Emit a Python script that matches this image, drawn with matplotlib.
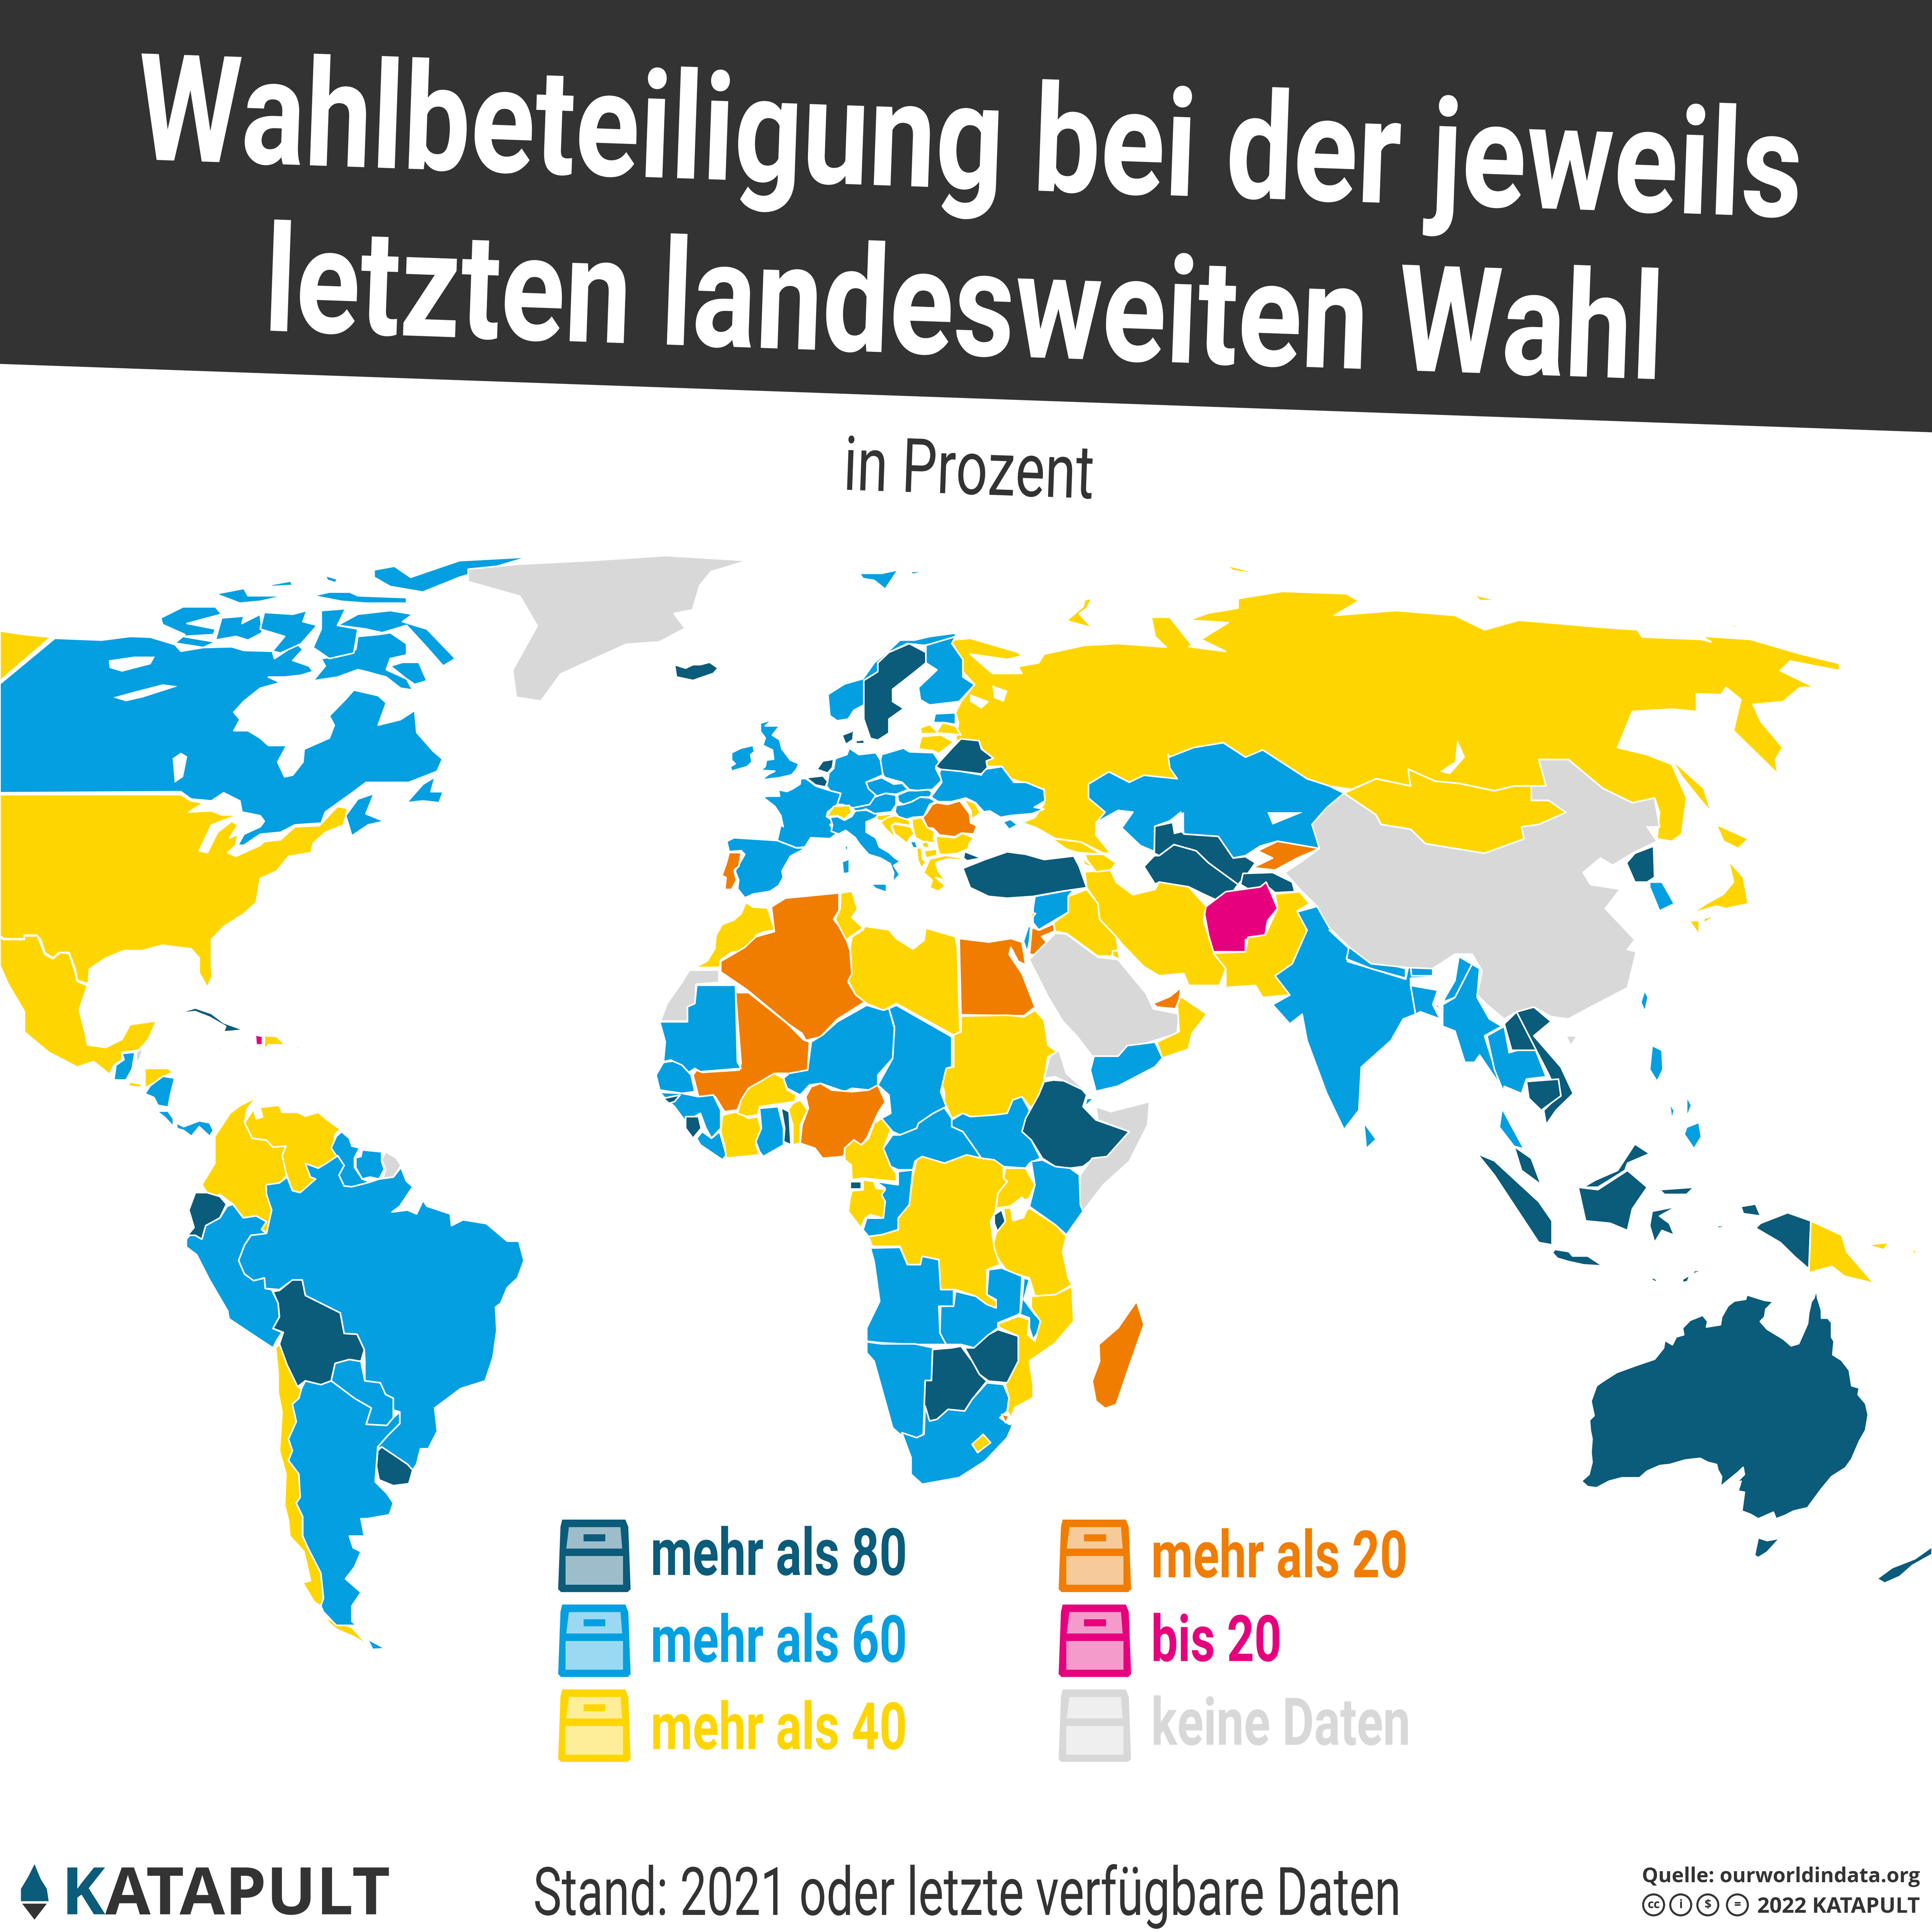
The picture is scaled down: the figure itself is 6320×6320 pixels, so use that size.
import matplotlib
matplotlib.use("Agg")
import matplotlib.pyplot as plt
from matplotlib.patches import Polygon, Circle
from matplotlib.patheffects import AbstractPathEffect
from matplotlib.transforms import Affine2D
from matplotlib import font_manager as fm

names = {f.name for f in fm.fontManager.ttflist}
NARROW = "Liberation Sans Narrow" if "Liberation Sans Narrow" in names else "Roboto"

COLORS = {"d": "#0B5B7A", "b": "#049FE0", "y": "#FFD500", "o": "#F07D00", "m": "#E6007E", "g": "#D8D8D8"}
LEGEND_LABELS = [("mehr als 80", "d"), ("mehr als 60", "b"), ("mehr als 40", "y"),
                 ("mehr als 20", "o"), ("bis 20", "m"), ("keine Daten", "g")]
TITLE_LINES = ["Wahlbeteiligung bei der jeweils", "letzten landesweiten Wahl"]
SUBTITLE = "in Prozent"
FOOTNOTE = "Stand: 2021 oder letzte verfügbare Daten"
SOURCE = "Quelle: ourworldindata.org"
COPYRIGHT = "2022 KATAPULT"

# reference frames of the outline digitising: x0, y0, x scale, y scale
FR = {"A": (0, 1750, 2200/1568, 2000/1568), "E": (2200, 1900, 2000/1568, 1900/1568),
      "F": (2200, 3400, 2000/1568, 1800/1568), "S": (4000, 1900, 2667/1568, 2600/1568),
      "L": (500, 3600, 1400/1568, 2100/1568), "G": (2400, 2400, 1300/1568, 1000/1568),
      "W": (5300, 4300, 1367/1568, 1200/1568), "T": (0, 0, 6667/1568, 6667/1568)}

NORTH_AMERICA = [
 ("y","A",[(0,335),(60,345),(125,352),(0,470)]),
 ("b","A",[(0,478),(135,355),(250,360),(320,350),(370,352),(430,372),(445,390),(500,380),(570,378),(600,388),(670,390),(675,410),(730,370),(745,385),(720,415),(760,430),(770,445),(740,455),(700,460),(660,460),(690,475),(640,490),(600,525),(575,555),(590,575),(575,605),(610,605),(640,625),(660,645),(705,645),(683,690),(700,730),(720,725),(745,690),(748,655),(810,625),(822,590),(810,565),(850,520),(870,495),(930,510),(950,530),(930,590),(985,575),(1020,550),(1025,610),(1065,660),(1088,682),(1075,715),(1005,745),(900,745),(870,770),(800,825),(790,855),(725,860),(690,880),(640,885),(600,915),(585,915),(600,885),(640,865),(650,850),(640,835),(595,825),(590,795),(550,773),(520,795),(470,790),(445,770),(0,773)]),
 ("b","A",[(850,835),(880,790),(920,775),(900,830),(945,850),(905,860),(865,890),(860,870)]),
 ("b","A",[(1000,800),(1040,750),(1070,730),(1060,770),(1090,770),(1080,800),(1040,795)]),
 ("b","A",[(790,410),(850,400),(875,385),(880,350),(930,345),(960,340),(1000,370),(1000,400),(960,410),(950,440),(1000,465),(1015,495),(985,490),(950,460),(900,445),(880,440),(830,460),(770,470),(800,430)]),
 ("b","A",[(990,420),(1030,420),(1050,470),(1020,480),(1000,465),(960,430)]),
 ("b","A",[(395,300),(450,270),(530,270),(545,290),(460,315),(530,330),(525,345),(450,350),(530,365),(500,380),(430,368),(455,345),(400,318)]),
 ("b","A",[(545,300),(600,295),(595,315),(640,290),(645,340),(610,360),(580,350),(530,360)]),
 ("b","A",[(650,285),(720,290),(755,280),(745,310),(780,320),(740,370),(690,395),(670,390),(700,350),(640,330)]),
 ("b","A",[(790,280),(850,275),(830,320),(880,330),(870,395),(810,410),(770,380),(790,330)]),
 ("b","A",[(880,290),(960,280),(1015,290),(990,310),(1050,330),(1120,410),(1090,430),(1050,380),(1000,320),(940,340),(900,330),(830,320)]),
 ("b","A",[(530,235),(600,220),(610,240),(700,240),(640,255),(590,260)]),
 ("b","A",[(665,210),(715,200),(720,212),(670,215)]),
 ("b","A",[(770,240),(810,230),(860,230),(880,240),(1000,245),(1000,260),(900,260),(840,255)]),
 ("b","A",[(800,185),(830,195),(825,205),(805,198)]),
 ("b","A",[(920,170),(970,160),(1010,190),(1130,145),(1300,135),(1130,190),(1040,230),(960,215),(920,190)]),
 ("y","A",[(10,778),(445,778),(470,795),(500,800),(465,825),(520,822),(545,833),(585,833),(520,860),(490,930),(510,935),(535,880),(570,850),(585,860),(565,895),(585,885),(580,915),(560,935),(580,945),(640,915),(650,905),(690,900),(725,865),(785,862),(830,810),(855,815),(845,860),(800,880),(770,910),(765,935),(710,945),(680,985),(640,1005),(630,1070),(600,1100),(550,1135),(520,1170),(520,1240),(522,1270),(510,1300),(490,1260),(490,1220),(470,1195),(430,1190),(400,1185),(350,1200),(305,1200),(260,1220),(220,1250),(217,1290),(190,1280),(185,1250),(170,1205),(145,1205),(130,1220),(110,1205),(100,1170),(90,1158),(60,1158),(60,1168),(10,1168),(0,1160),(0,778)]),
 ("y","A",[(0,1165),(10,1170),(60,1170),(60,1160),(92,1160),(110,1210),(130,1222),(148,1205),(170,1208),(185,1260),(190,1283),(215,1295),(195,1360),(210,1425),(215,1455),(260,1462),(300,1440),(320,1400),(385,1390),(365,1440),(340,1470),(300,1475),(300,1495),(280,1510),(270,1535),(230,1500),(190,1515),(120,1475),(60,1420),(60,1365),(20,1290),(0,1240)]),
 ("b","A",[(300,1478),(332,1475),(325,1520),(310,1550),(280,1550),(285,1510),(305,1495)]),
 ("g","A",[(335,1475),(352,1462),(345,1490),(335,1505)]),
 ("y","A",[(320,1555),(350,1562),(345,1570),(315,1566)]),
 ("y","L",[(0,65),(90,65),(108,75),(75,85),(40,100),(0,115)]),
 ("b","L",[(115,90),(100,130),(90,165),(50,160),(35,140),(0,130),(20,110),(70,85)]),
 ("b","L",[(45,175),(90,175),(110,195),(110,215),(75,190)]),
 ("b","L",[(120,205),(150,215),(210,200),(250,205),(265,225),(250,240),(210,215),(180,240),(150,225),(125,220)]),
 ("d","A",[(437,1370),(480,1355),(520,1370),(550,1395),(600,1415),(550,1420),(555,1405),(515,1380),(480,1365)]),
 ("m","A",[(628,1428),(646,1432),(645,1455),(630,1455)]),
 ("m","A",[(600,1455),(612,1458),(604,1462)]),
 ("y","A",[(650,1430),(680,1432),(702,1455),(660,1455),(650,1468)]),
 ("o","A",[(535,1460),(558,1467),(540,1467)]),
 ("g","A",[(730,1458),(750,1465),(730,1465)]),
 ("g","T",[(380,462),(420,458),(480,455),(540,451),(607,455),(577,464),(568,475),(562,495),(547,498),(556,510),(535,521),(508,523),(455,547),(439,569),(419,566),(416,544),(436,508),(422,484),(380,472)]),
]

SOUTH_AMERICA = [
 ("y","L",[(220,365),(270,310),(270,240),(330,180),(370,160),(430,140),(395,170),(385,205),(415,245),(470,250),(495,268),(545,265),(530,290),(550,340),(520,360),(468,365),(470,390),(490,430),(475,490),(450,480),(470,460),(430,445),(380,450),(340,415),(290,390),(265,395),(240,385)]),
 ("y","L",[(445,165),(520,160),(530,178),(590,178),(620,188),(670,178),(700,195),(755,222),(735,235),(725,270),(745,290),(700,310),(670,322),(620,310),(640,345),(660,350),(600,385),(570,380),(548,340),(530,290),(545,265),(495,268),(470,250),(415,245),(385,205),(420,170),(430,195),(455,190)]),
 ("b","L",[(760,228),(790,245),(800,265),(830,270),(810,295),(810,320),(840,350),(870,358),(800,370),(770,368),(750,340),(770,315),(745,295),(720,270),(740,240)]),
 ("b","L",[(840,275),(915,280),(915,305),(925,325),(905,350),(870,345),(840,350),(815,320),(815,295),(835,292)]),
 ("g","L",[(930,280),(970,295),(990,315),(960,345),(920,350),(930,325),(915,300)]),
 ("b","L",[(990,320),(1010,355),(1035,370),(985,420),(955,435),(1015,430),(1050,440),(1075,405),(1090,420),(1180,440),(1185,470),(1230,455),(1320,465),(1400,510),(1445,510),(1465,560),(1440,605),(1400,630),(1375,670),(1355,680),(1360,740),(1345,810),(1315,870),(1220,890),(1120,940),(1130,1000),(1095,1045),(1065,1045),(1050,1085),(1030,1105),(1015,1085),(900,1040),(940,1010),(985,980),(985,950),(960,945),(960,915),(930,905),(910,875),(850,870),(850,820),(848,790),(820,750),(770,748),(755,695),(680,670),(620,650),(608,610),(560,615),(520,635),(465,632),(462,605),(420,612),(385,595),(362,560),(385,520),(410,495),(470,490),(490,430),(470,390),(468,365),(520,360),(550,345),(570,380),(600,385),(660,350),(640,345),(620,310),(670,322),(700,310),(745,290),(770,315),(750,340),(770,368),(800,370),(870,358),(905,350),(960,345)]),
 ("b","L",[(160,525),(200,545),(250,610),(320,690),(325,710),(460,770),(495,785),(510,765),(530,745),(495,735),(520,705),(515,670),(490,635),(465,632),(462,605),(420,612),(385,595),(362,560),(385,520),(410,495),(470,490),(450,480),(470,460),(430,445),(380,450),(340,415),(318,420),(290,450),(235,470),(220,505),(180,490),(160,505)]),
 ("d","L",[(195,385),(240,385),(290,395),(315,415),(290,450),(235,470),(220,505),(195,495),(165,495),(190,475),(170,430)]),
 ("d","L",[(495,640),(520,637),(570,610),(608,610),(620,650),(680,670),(755,695),(770,748),(820,750),(848,790),(835,820),(790,815),(735,825),(720,870),(680,880),(620,870),(590,885),(550,830),(525,790),(520,775),(535,745),(495,735),(520,705),(515,670)]),
 ("b","L",[(735,825),(790,815),(835,820),(850,870),(910,875),(930,905),(960,915),(960,965),(935,985),(855,982),(875,940),(810,915),(720,870)]),
 ("y","L",[(505,785),(520,775),(550,830),(590,885),(605,890),(595,915),(570,930),(585,975),(565,1010),(555,1020),(570,1050),(555,1075),(595,1110),(600,1170),(585,1185),(610,1220),(610,1270),(630,1300),(680,1365),(690,1430),(680,1450),(655,1440),(610,1390),(640,1385),(615,1310),(560,1270),(555,1230),(540,1190),(545,1110),(520,1050),(530,950),(515,900),(515,850)]),
 ("y","L",[(690,1480),(730,1490),(800,1505),(860,1550),(810,1530),(740,1510)]),
 ("b","L",[(605,890),(620,870),(680,880),(720,870),(810,915),(875,940),(855,982),(935,985),(960,965),(985,950),(985,980),(940,1010),(900,1040),(890,1130),(935,1160),(960,1185),(945,1215),(860,1225),(835,1225),(848,1270),(790,1270),(805,1300),(835,1310),(810,1350),(775,1380),(835,1415),(800,1450),(800,1490),(820,1500),(740,1500),(690,1465),(680,1450),(690,1430),(680,1365),(630,1300),(610,1270),(610,1220),(585,1185),(600,1170),(595,1110),(555,1075),(570,1050),(555,1020),(585,975),(570,930),(595,915)]),
 ("b","L",[(860,1535),(930,1560),(880,1562)]),
 ("d","L",[(900,1050),(915,1040),(1015,1085),(1035,1100),(1020,1135),(960,1140),(905,1125),(895,1090)]),
]

EUROPE = [
 ("d","E",[(100,325),(130,335),(150,325),(170,325),(195,318),(218,335),(205,350),(150,370),(105,360)]),
 ("b","E",[(600,65),(660,65),(705,55),(670,110),(640,85),(610,80)]),
 ("b","E",[(735,60),(785,58),(745,68)]),
 ("b","E",[(515,410),(560,380),(610,365),(640,320),(680,285),(710,255),(750,255),(790,245),(860,235),(860,250),(800,265),(775,270),(730,265),(680,290),(650,320),(650,345),(615,370),(612,440),(585,455),(570,480),(540,485),(520,470)]),
 ("d","E",[(680,290),(735,265),(780,290),(780,320),(745,350),(690,395),(690,430),(720,450),(680,480),(680,520),(650,540),(630,535),(612,480),(612,370),(650,345),(650,320)]),
 ("b","E",[(780,270),(860,245),(850,265),(880,310),(880,360),(912,382),(870,430),(790,440),(765,425),(760,390),(810,340),(780,320)]),
 ("b","E",[(805,465),(860,462),(860,495),(830,490),(800,490)]),
 ("y","E",[(765,505),(790,495),(810,515),(825,490),(860,500),(875,525),(820,520),(768,522)]),
 ("y","E",[(768,530),(820,525),(855,545),(815,578),(800,570),(760,565)]),
 ("d","G",[(610,215),(650,195),(660,170),(655,240),(625,265)]),
 ("d","G",[(665,245),(700,240),(705,260),(670,262)]),
 ("b","G",[(270,150),(320,130),(290,165),(350,165),(320,215),(350,240),(360,290),(395,350),(430,370),(420,400),(400,430),(350,445),(290,455),(270,465),(300,430),(330,410),(270,405),(290,385),(295,350),(325,345),(320,295),(280,270),(290,230),(270,195)]),
 ("b","G",[(150,310),(190,285),(240,270),(245,305),(230,320),(235,360),(215,385),(150,410),(145,385),(165,370),(150,350)]),
 ("b","G",[(280,550),(300,545),(350,545),(345,510),(380,520),(405,505),(435,480),(438,450),(460,450),(500,490),(560,515),(605,530),(590,590),(550,630),(545,655),(575,680),(560,700),(585,750),(560,775),(480,770),(455,820),(420,825),(340,785),(355,700),(365,710),(355,650),(330,600)]),
 ("b","G",[(620,815),(635,815),(630,855)]),
 ("d","G",[(460,445),(530,435),(550,465),(540,495),(500,485)]),
 ("d","G",[(505,400),(530,355),(575,345),(570,390),(550,420)]),
 ("b","G",[(585,340),(630,320),(640,285),(680,320),(750,310),(770,350),(780,430),(710,470),(750,540),(730,590),(660,610),(610,590),(590,590),(605,530),(560,515),(545,490),(550,465),(555,420),(575,395),(580,350)]),
 ("b","G",[(775,320),(865,285),(890,305),(990,310),(1015,360),(1000,395),(1025,460),(985,510),(960,510),(925,515),(890,510),(860,470),(790,445),(780,430),(770,350)]),
 ("b","G",[(710,470),(775,445),(825,480),(860,475),(885,510),(835,535),(790,530),(755,545),(720,505)]),
 ("b","G",[(650,610),(725,590),(745,550),(790,530),(835,540),(835,590),(815,630),(745,640),(710,615),(670,630)]),
 ("y","G",[(545,655),(575,600),(640,595),(650,630),(620,670),(590,650),(560,655)]),
 ("b","G",[(840,540),(885,515),(925,515),(970,510),(985,525),(975,550),(935,550),(900,575),(865,590),(845,575)]),
 ("b","G",[(835,595),(865,590),(900,575),(935,550),(975,555),(1000,575),(975,590),(950,655),(905,660),(880,670),(850,665),(830,630)]),
 ("b","G",[(560,660),(590,655),(620,675),(650,655),(665,625),(710,620),(745,640),(770,640),(745,665),(710,685),(710,740),(750,770),(765,820),(805,850),(830,880),(880,920),(850,900),(825,920),(850,970),(820,1010),(825,960),(810,910),(770,880),(720,860),(680,800),(665,770),(625,730),(595,750),(565,735),(570,700)]),
 ("b","G",[(730,1020),(795,1020),(795,1065),(750,1045)]),
 ("b","G",[(610,900),(640,885),(640,960),(615,965)]),
 ("y","G",[(755,650),(820,640),(790,680),(755,675)]),
 ("y","G",[(770,685),(800,660),(830,650),(890,675),(895,705),(830,690),(815,710),(830,760),(880,805),(830,770),(790,720)]),
 ("y","G",[(815,705),(830,695),(895,710),(910,750),(890,775),(880,800),(830,750)]),
 ("y","G",[(900,670),(940,660),(965,715),(995,735),(990,775),(1000,800),(945,790),(915,770),(905,720)]),
 ("b","G",[(893,790),(915,790),(925,825),(905,825)]),
 ("o","G",[(985,590),(1005,580),(1050,590),(1100,570),(1140,640),(1145,690),(1170,705),(1158,750),(1105,745),(1080,765),(1015,755),(990,720),(965,715),(945,660),(960,640)]),
 ("y","G",[(1115,560),(1165,585),(1185,635),(1150,670),(1145,620)]),
 ("y","G",[(1000,760),(1080,770),(1110,745),(1158,770),(1140,800),(1135,830),(1090,855),(1040,860),(1015,860),(1005,810)]),
 ("y","G",[(950,840),(1005,830),(1005,865),(960,880)]),
 ("y","G",[(920,825),(940,825),(945,885),(960,900),(940,935),(925,890)]),
 ("y","G",[(940,800),(965,790),(975,820),(950,825)]),
 ("y","G",[(975,885),(1040,865),(1110,880),(1105,890),(1050,885),(1000,905),(1010,950),(1040,1000),(1000,985),(1040,1030),(1010,1060),(975,1040),(985,1000),(950,960)]),
 ("d","G",[(1120,845),(1190,880),(1130,895),(1115,880)]),
 ("b","G",[(130,790),(160,770),(340,785),(420,825),(460,825),(395,870),(360,950),(365,985),(345,1030),(310,1060),(240,1075),(205,1095),(175,1045),(180,1000),(165,950),(185,905),(205,860),(190,840),(140,845)]),
 ("o","G",[(140,850),(190,850),(180,925),(160,945),(170,1000),(150,1050),(122,1050),(127,985),(110,975),(130,900)]),
 ("b","G",[(1020,400),(1100,410),(1190,430),(1200,400),(1275,385),(1325,470),(1375,470),(1450,510),(1455,570),(1410,605),(1450,615),(1400,640),(1310,650),(1270,660),(1225,625),(1200,630),(1165,580),(1125,555),(1065,575),(1010,575),(980,550),(1025,470),(1015,420)]),
 ("b","G",[(1280,685),(1310,670),(1340,700),(1305,725)]),
 ("d","G",[(1015,360),(1075,275),(1105,235),(1180,245),(1190,290),(1240,340),(1210,355),(1215,390),(1190,425),(1100,410),(1020,400),(1000,385)]),
]

ASIA = [
 # Russland
 ("y","E",[(850,255),(900,250),(1030,290),(1040,300),(1000,310),(900,295),(960,350),(1040,350),(1030,330),(1085,320),(1100,295),(1210,270),(1300,265),(1430,275),(1400,245),(1390,190),(1440,190),(1500,270)],
  "S",[(60,200),(135,210),(85,185),(140,150),(60,145),(100,130),(160,120),(160,100),(250,85),(380,90),(405,105),(355,135),(480,125),(600,135),(660,165),(730,145),(900,160),(970,165),(980,180),(1100,185),(1120,190),(1100,178),(1200,185),(1300,215),(1380,235),(1380,250),(1280,230),(1260,250),(1330,285),(1300,285),(1265,315),(1205,320),(1220,355),(1265,410),(1250,435),(1255,465),(1165,375),(1180,310),(1150,285),(1140,300),(1090,298),(1090,335),(1040,330),(960,335),(930,410),(990,425),(1040,445),(1070,515),(1060,590),(1040,605),(1010,600),(1015,545),(1005,515),(960,525),(900,495),(830,435),(770,435),(785,490),(720,490),(680,500),(610,485),(560,480),(505,455),(510,490),(440,475),(390,497),(345,490),(300,475),(210,415),(175,430),(130,400),(70,410),(20,430)],
  "E",[(1440,620),(1460,650),(1370,640),(1330,660),(1275,630),(1220,665),(1220,705),(1265,745),(1240,780),(1240,810),(1280,862),(1260,862),(1200,830),(1130,820),(1080,790),(1040,775),(1075,760),(1100,720),(1100,680),(1010,650),(985,615),(930,615),(950,595),(920,545),(860,540),(868,490),(860,462),(875,430),(912,382),(880,345),(875,305),(850,262)]),
 ("y","E",[(1160,200),(1205,160),(1210,140),(1340,115),(1230,135),(1215,165),(1195,180),(1230,220)]),
 ("y","S",[(1040,435),(1105,495),(1120,545),(1095,515),(1060,470)]),
 ("y","S",[(135,30),(210,50),(150,42)]),
 ("y","S",[(640,92),(690,105),(650,104)]),
 ("y","S",[(1160,155),(1188,158),(1165,160)]),
 # Kasachstan
 ("b","E",[(1435,580),(1440,620),(1460,650),(1370,640),(1330,660),(1275,630),(1220,665),(1220,705),(1265,745),(1240,775),(1300,740),(1340,745),(1310,790),(1360,840),(1415,865),(1400,785),(1440,770),(1470,745)],
  "S",[(50,590),(120,595),(150,640),(175,635),(205,615),(240,605),(325,620),(335,570),(310,570),(340,535),(370,530),(375,505),(345,490),(300,475),(210,415),(175,430),(130,400),(70,410),(20,430)]),
 ("d","S",[(-9,574),(30,565),(50,590),(120,595),(150,640),(175,637),(195,650),(180,672),(160,695),(100,650),(75,625),(30,612),(0,635),(-10,630)]),
 ("d","S",[(-10,635),(0,635),(30,612),(75,625),(100,650),(160,695),(132,735),(90,715),(60,700),(0,690)],"E",[(1400,950),(1370,900)]),
 ("d","S",[(170,672),(230,670),(270,690),(275,710),(235,712),(215,695),(190,710),(165,695)]),
 ("o","S",[(200,625),(240,605),(325,620),(280,640),(235,665),(190,660),(230,640)]),
 ("m","S",[(90,745),(135,710),(205,700),(217,690),(230,720),(240,745),(220,770),(215,800),(175,810),(175,835),(110,835),(100,800)]),
 ("y","E",[(1210,915),(1280,910),(1295,945),(1340,980),(1400,965)],"S",[(0,690),(60,700),(95,740),(90,770),(110,835),(135,870),(122,905),(60,905),(50,880),(0,885)],"E",[(1370,1185),(1310,1120),(1295,1100),(1250,1050),(1245,1005),(1215,960)]),
 ("y","E",[(1215,965),(1245,1005),(1250,1050),(1295,1100),(1300,1135),(1280,1155),(1245,1155),(1160,1090),(1130,1085),(1125,1060),(1165,1030),(1165,985)]),
 ("b","E",[(1075,985),(1180,965),(1165,985),(1165,1030),(1085,1080),(1070,1060),(1070,1020)]),
 ("y","E",[(1285,1140),(1300,1140),(1305,1165),(1285,1155)]),
 ("o","G",[(1400,1255),(1430,1270),(1490,1235),(1495,1275),(1440,1305),(1475,1355),(1430,1380),(1415,1405),(1390,1400)]),
 ("b","G",[(1385,1250),(1395,1250),(1390,1330),(1380,1390),(1365,1330)]),
 ("y","G",[(1400,1175),(1415,1180),(1395,1215)]),
 ("g","E",[(1060,1165),(1130,1090),(1160,1092),(1245,1158),(1300,1165),(1335,1210),(1375,1260),(1395,1305),(1465,1320),(1460,1375),(1400,1395),(1320,1420),(1300,1440),(1230,1440),(1190,1385),(1150,1340),(1110,1270)]),
 ("b","E",[(1235,1440),(1300,1440),(1325,1410),(1400,1400),(1420,1445),(1400,1470),(1300,1525),(1240,1540),(1225,1480)]),
 ("y","E",[(1405,1400),(1465,1370),(1460,1290),(1470,1270),(1540,1320),(1500,1375),(1490,1420),(1420,1445)]),
 ("o","E",[(1395,1290),(1440,1270),(1470,1245),(1465,1280),(1455,1305),(1405,1300)]),
 ("y","E",[(1120,820),(1200,830),(1255,865),(1190,860),(1160,850)]),
 ("y","E",[(1200,875),(1240,905),(1210,895)]),
 ("y","E",[(1210,865),(1260,865),(1295,890),(1280,910),(1240,915),(1215,880)]),
 ("d","E",[(880,905),(940,880),(1000,858),(1050,865),(1100,880),(1180,870),(1195,900),(1215,960),(1150,970),(1070,985),(1000,990),(950,985),(900,960)]),
 ("y","S",[(122,910),(135,905),(135,870),(110,838),(175,835),(180,805),(215,800),(240,745),(235,715),(285,710),(305,735),(280,750),(300,790),(270,860),(235,885),(265,925),(210,930),(195,905),(125,910)]),
 ("b","S",[(280,752),(322,740),(355,780),(345,790),(385,828),(382,855),(500,892),(505,868),(555,868),(555,888),(510,890),(510,905),(565,915),(555,945),(570,955),(580,930),(600,895),(608,845),(635,860),(600,930),(575,940),(585,975),(565,945),(520,965),(495,975),(470,1020),(410,1075),(405,1165),(375,1205),(340,1130),(300,1020),(290,965),(265,985),(230,945),(265,925),(235,885),(270,860),(300,790)]),
 ("b","S",[(385,825),(460,860),(500,870),(500,890),(430,870),(380,850)]),
 ("b","S",[(510,865),(555,870),(555,885),(512,885)]),
 ("b","S",[(510,905),(565,915),(555,945),(570,975),(530,960),(520,965)]),
 ("b","S",[(608,845),(650,870),(645,930),(670,975),(695,990),(660,1010),(680,1075),(690,1110),(650,1050),(640,1065),(620,1065),(600,1000),(575,990),(575,945),(600,930),(635,860)]),
 ("b","S",[(665,1010),(700,990),(710,1045),(760,1030),(785,1095),(745,1100),(735,1130),(700,1115),(695,1160),(740,1245),(720,1240),(690,1200),(700,1130),(680,1080)]),
 ("d","S",[(700,985),(725,960),(760,1010),(790,1090),(770,1040),(715,1040)]),
 ("d","S",[(725,960),(760,950),(795,980),(760,1010),(815,1075),(840,1130),(805,1165),(785,1195),(780,1165),(810,1135),(790,1090),(745,1000)]),
 ("d","S",[(745,1105),(810,1100),(815,1135),(775,1165),(750,1140)]),
 ("g","S",[(770,435),(830,435),(900,495),(960,525),(1005,515),(1015,575),(990,575),(1010,605),(960,630),(920,655),(895,640),(860,670),(875,695),(935,705),(905,745),(965,810),(950,830),(968,835),(950,910),(875,950),(830,975),(795,970),(760,950),(725,960),(700,975),(665,945),(645,925),(655,875),(635,840),(600,840),(555,870),(505,868),(430,860),(385,825),(345,785),(320,740),(290,710),(255,670),(285,650),(325,620),(310,570),(340,535),(375,505),(440,550),(450,570),(510,580),(540,610),(660,630),(740,600),(735,575),(770,570),(825,545),(790,520),(755,520),(755,490),(785,490)]),
 ("y","S",[(375,505),(440,475),(510,490),(505,455),(560,480),(610,485),(680,500),(720,490),(755,490),(755,520),(790,520),(825,545),(770,570),(735,575),(740,600),(660,630),(540,610),(510,580),(450,570),(440,550)]),
 ("d","S",[(1003,615),(1005,680),(990,690),(965,690),(948,650),(965,630)]),
 ("b","S",[(995,690),(1020,690),(1045,735),(1015,750),(995,700)]),
 ("y","S",[(1155,645),(1185,680),(1195,735),(1150,745),(1130,740),(1080,755),(1110,735),(1145,715),(1165,690)]),
 ("y","S",[(1130,570),(1195,600),(1175,620),(1145,605)]),
 ("y","S",[(1075,770),(1095,770),(1095,800)]),
 ("y","S",[(1105,765),(1130,760),(1105,775)]),
 ("b","S",[(985,915),(992,930),(985,960),(977,940)]),
 ("g","S",[(825,1010),(848,1010),(835,1030)]),
 ("b","S",[(1000,1030),(1020,1040),(1022,1080),(1010,1105),(995,1080)]),
 ("b","S",[(1070,1200),(1095,1190),(1100,1220),(1085,1245),(1065,1215)]),
 ("b","S",[(1070,1135),(1080,1155),(1070,1180)]),
 ("b","S",[(1035,1150),(1045,1165),(1040,1185)]),
 ("b","S",[(415,1190),(440,1225),(420,1245)]),
 ("d","S",[(645,1255),(680,1270),(770,1355),(797,1395),(797,1445),(770,1440),(725,1370),(680,1300)]),
 ("d","S",[(850,1325),(890,1330),(950,1290),(990,1325),(960,1370),(950,1415),(915,1400),(865,1395)]),
 ("d","S",[(885,1310),(930,1290),(965,1235),(995,1255),(950,1275),(945,1290),(890,1325),(860,1325)]),
 ("d","S",[(720,1240),(755,1265),(775,1320),(735,1290)]),
 ("d","S",[(1000,1375),(1050,1365),(1015,1385),(1035,1400),(1045,1425),(1020,1415),(1005,1440),(995,1405)]),
 ("d","S",[(1180,1365),(1210,1360),(1220,1385),(1185,1380)]),
 ("d","S",[(1220,1400),(1275,1378),(1322,1395),(1318,1495),(1290,1470),(1260,1440),(1210,1410)]),
 ("y","S",[(1322,1395),(1385,1425),(1395,1460),(1450,1525),(1390,1510),(1365,1490),(1318,1503)]),
 ("y","S",[(1435,1445),(1480,1440),(1470,1455)]),
 ("y","S",[(1528,1445),(1538,1465),(1530,1462)]),
 ("d","S",[(1015,1330),(1085,1325),(1070,1340),(1025,1340)]),
 ("d","S",[(1130,1405),(1165,1405),(1135,1410)]),
]

OCEANIA = [
 ("d","W",[(65,30),(75,15),(130,25),(145,45),(205,45),(265,90),(190,85),(130,70),(85,55)]),
 ("d","W",[(325,95),(345,98),(330,102)]),
 ("d","W",[(385,110),(400,105),(400,115)]),
 ("d","W",[(475,105),(530,108),(475,112)]),
 ("d","W",[(445,143),(470,145),(485,160),(470,160)]),
 ("d","W",[(625,112),(672,103),(620,128)]),
 ("d","W",[(580,150),(610,130),(600,160),(580,165)]),
 ("d","W",[(1110,197),(1115,235),(1130,290),(1130,325),(1155,325),(1170,345),(1170,410),(1180,430),(1175,490),(1210,515),(1240,560),(1250,630),(1280,640),(1275,670),(1305,710),(1315,760),(1305,830),(1280,880),(1250,960),(1225,1000),(1170,1040),(1130,1095),(1075,1180),(1020,1195),(985,1215),(950,1230),(940,1200),(880,1230),(850,1210),(815,1195),(825,1110),(800,1105),(812,1060),(790,1070),(825,1030),(820,998),(800,1020),(730,1085),(735,1040),(720,1010),(715,985),(680,975),(650,957),(590,965),(530,985),(490,990),(440,1015),(410,1045),(340,1045),(290,1060),(240,1090),(205,1085),(180,1060),(210,1030),(222,975),(218,930),(222,870),(215,830),(212,785),(230,765),(218,700),(240,630),(265,610),(320,570),(400,537),(470,510),(505,460),(510,425),(540,445),(555,410),(585,400),(580,370),(610,335),(660,312),(680,340),(675,365),(730,355),(735,320),(760,270),(785,248),(830,240),(835,220),(905,245),(940,250),(910,285),(905,320),(888,340),(915,375),(980,420),(1010,450),(1040,440),(1075,350),(1080,300),(1090,250),(1100,235)]),
 ("d","W",[(880,1315),(915,1328),(965,1318),(915,1380),(880,1405),(865,1395),(875,1340)]),
 ("d","W",[(1568,1355),(1568,1390),(1490,1440),(1440,1490),(1380,1520),(1350,1500),(1410,1450),(1500,1410)]),
]

AFRICA = [
 ("y","G",[(210,1120),(240,1145),(300,1150),(315,1210),(330,1270),(280,1280),(250,1300),(255,1325),(215,1355),(200,1380),(150,1390),(105,1430),(100,1472),(0,1472),(50,1435),(80,1370),(85,1300),(110,1240),(160,1215),(190,1180)]),
 ("g","E",[(140,1195),(220,1195),(220,1230),(158,1235),(155,1290),(135,1300),(135,1340),(62,1340),(80,1290),(120,1230)]),
 ("o","E",[(362,1015),(400,990),(545,975),(545,1025),(530,1050),(560,1090),(575,1140),(580,1210),(570,1230),(590,1265),(615,1285),(540,1335),(495,1385),(455,1395),(445,1375),(410,1350),(295,1250),(225,1200),(225,1170),(290,1130),(320,1100),(370,1085),(365,1040)]),
 ("y","E",[(550,975),(580,970),(595,1020),(580,1045),(610,1075),(575,1100),(565,1110),(535,1050),(548,1020)]),
 ("y","E",[(615,1070),(680,1080),(700,1105),(745,1135),(775,1110),(780,1075),(860,1100),(865,1130),(872,1370),(855,1380),(700,1290),(665,1310),(620,1290),(590,1265),(570,1225),(580,1205),(575,1130),(580,1100),(610,1080)]),
 ("o","E",[(870,1105),(950,1115),(1010,1105),(1040,1115),(1050,1180),(1030,1170),(1010,1130),(1005,1150),(1040,1205),(1075,1300),(1045,1325),(875,1322)]),
 ("y","F",[(875,93),(1000,90),(1045,95),(1075,75),(1100,105),(1110,180),(1135,200),(1110,215),(1100,285),(1085,330),(1065,370),(1040,335),(1015,345),(1000,385),(965,390),(900,395),(880,385),(850,400),(830,350),(830,320),(820,290),(835,250),(855,245),(855,150),(875,140)]),
 ("b","F",[(700,60),(850,155),(850,245),(835,250),(820,320),(835,365),(800,385),(760,415),(755,430),(710,450),(690,440),(660,400),(685,385),(680,330),(650,300),(690,220),(695,125),(680,70)]),
 ("b","F",[(620,60),(665,75),(680,70),(695,130),(690,220),(650,270),(650,305),(625,315),(580,310),(560,320),(495,295),(465,300),(440,330),(405,310),(395,280),(415,260),(460,255),(470,170),(500,150),(540,110)]),
 ("o","F",[(265,22),(300,22),(405,115),(450,165),(465,170),(460,255),(410,265),(375,265),(335,290),(300,310),(280,345),(270,375),(235,380),(210,335),(165,335),(150,270),(160,255),(175,262),(275,255),(280,235)]),
 ("b","F",[(160,0),(265,0),(270,230),(280,250),(170,260),(155,250),(135,265),(115,240),(90,225),(70,230),(75,170),(60,110),(135,110),(135,65),(155,55)]),
 ("b","F",[(70,232),(95,228),(120,240),(145,270),(155,320),(120,325),(60,315),(50,270)]),
 ("b","F",[(60,322),(120,325),(165,335),(205,330),(225,375),(225,430),(200,460),(185,430),(170,385),(130,410),(100,365),(75,340)]),
 ("d","F",[(70,340),(115,330),(100,350),(85,355)]),
 ("d","F",[(130,395),(165,395),(172,430),(150,460),(130,430)]),
 ("b","F",[(175,440),(200,460),(222,440),(240,510),(230,525),(170,480),(160,460)]),
 ("y","F",[(230,390),(270,380),(300,400),(325,395),(335,435),(320,480),(330,510),(240,520),(235,480),(225,440)]),
 ("y","F",[(280,345),(300,310),(370,265),(395,280),(405,315),(430,330),(425,350),(330,365),(325,390),(295,395),(270,385)]),
 ("b","F",[(330,370),(380,365),(395,430),(395,480),(340,515),(330,500),(320,470),(335,430)]),
 ("d","F",[(388,368),(410,380),(415,480),(395,470),(398,430)]),
 ("y","F",[(420,355),(440,345),(460,375),(440,420),(440,475),(420,480),(420,420),(408,375)]),
 ("o","F",[(470,305),(495,295),(525,315),(580,320),(625,315),(650,300),(670,350),(650,385),(640,410),(620,460),(605,480),(585,465),(555,515),(500,520),(480,490),(440,475),(445,420),(462,370),(455,335)]),
 ("y","F",[(660,400),(685,435),(665,490),(685,545),(700,565),(700,590),(610,580),(580,585),(578,540),(560,525),(560,490),(585,465),(605,480),(625,460),(640,415)]),
 ("b","F",[(690,450),(710,450),(755,430),(760,415),(800,385),(830,368),(850,400),(850,425),(880,440),(915,495),(930,520),(890,510),(830,535),(770,515),(750,530),(745,555),(705,555),(685,545),(665,490)]),
 ("b","F",[(850,405),(880,385),(900,395),(965,390),(1000,385),(1015,345),(1040,335),(1060,375),(1050,430),(1040,440),(1065,465),(1090,520),(1060,535),(1050,550),(985,545),(965,525),(930,520),(915,495),(880,440),(850,425)]),
 ("d","F",[(1100,290),(1125,285),(1185,290),(1215,330),(1205,365),(1240,405),(1330,440),(1270,515),(1235,520),(1205,545),(1170,550),(1130,545),(1095,520),(1065,465),(1040,440),(1050,400),(1065,370),(1085,330)]),
 ("g","F",[(1115,215),(1140,195),(1160,265),(1215,320),(1130,275),(1100,280)]),
 ("b","F",[(1215,340),(1235,340),(1210,365)]),
 ("g","F",[(1240,365),(1280,380),(1385,350),(1380,420),(1330,530),(1260,600),(1205,680),(1195,660),(1198,570),(1230,520),(1270,515),(1330,440),(1245,405)]),
 ("b","F",[(1065,530),(1095,525),(1130,545),(1170,550),(1195,570),(1198,660),(1205,680),(1160,750),(1130,720),(1060,665),(1075,600)]),
 ("y","F",[(995,550),(1050,550),(1075,600),(1060,640),(1005,665),(970,670),(975,625),(1000,590),(990,580)]),
 ("d","F",[(965,690),(985,675),(995,710),(975,745),(965,715)]),
 ("y","F",[(990,670),(1010,670),(1015,705),(1060,670),(1130,720),(1160,755),(1150,800),(1165,880),(1175,900),(1130,930),(1075,935),(1060,880),(1000,860),(980,830),(960,790),(970,745),(995,710)]),
 ("y","F",[(755,525),(770,515),(830,535),(890,510),(930,520),(965,525),(990,545),(990,580),(1000,590),(975,625),(968,680),(955,710),(965,790),(980,840),(945,855),(945,930),(970,950),(970,970),(945,960),(915,935),(860,915),(820,915),(815,825),(770,815),(765,840),(730,840),(710,785),(635,785),(625,755),(660,750),(705,735),(705,700),(735,660),(745,570)]),
 ("b","F",[(645,590),(705,600),(705,560),(745,555),(735,660),(705,700),(705,735),(660,750),(625,755),(610,735),(620,700),(660,700),(670,650),(650,630),(670,610)]),
 ("y","F",[(580,618),(610,615),(610,585),(640,590),(645,610),(670,615),(660,630),(670,650),(665,700),(630,690),(615,700),(605,730),(570,680),(575,640)]),
 ("d","F",[(575,590),(605,590),(605,612),(575,612)]),
 ("b","F",[(630,790),(710,788),(730,840),(765,840),(770,815),(815,825),(820,915),(855,915),(855,965),(815,965),(818,1045),(835,1080),(750,1080),(660,1075),(620,1070),(620,1030),(655,950),(640,830)]),
 ("b","F",[(820,965),(855,965),(860,920),(915,935),(945,960),(970,970),(970,945),(945,930),(950,855),(985,850),(1040,875),(1035,985),(1030,990),(975,1015),(975,1030),(945,1055),(910,1090),(875,1080),(835,1080),(818,1045)]),
 ("b","F",[(1045,880),(1060,885),(1045,945),(1075,990),(1090,1005),(1085,1040),(1070,1065),(1060,1030),(1060,1000),(1035,990),(1040,950)]),
 ("y","F",[(1065,935),(1130,930),(1175,905),(1180,1010),(1130,1075),(1060,1130),(1070,1200),(1070,1240),(1020,1270),(1010,1300),(1000,1280),(1005,1240),(995,1200),(1025,1130),(1030,1055),(980,1030),(975,1018),(1030,995),(1060,1005),(1055,1050),(1075,1070),(1090,1010),(1065,970)]),
 ("d","F",[(885,1090),(910,1090),(950,1050),(975,1035),(1030,1055),(1030,1130),(1000,1195),(950,1190),(925,1170),(905,1130)]),
 ("d","F",[(798,1095),(850,1090),(875,1085),(905,1130),(925,1170),(945,1190),(905,1245),(885,1280),(840,1275),(810,1305),(790,1310),(775,1265),(778,1188),(795,1188)]),
 ("b","F",[(620,1072),(660,1078),(750,1078),(800,1090),(875,1080),(798,1095),(795,1188),(778,1188),(773,1350),(755,1360),(710,1350),(690,1330),(670,1250),(640,1130),(620,1105)]),
 ("b","F",[(715,1345),(755,1360),(775,1350),(778,1265),(790,1310),(810,1305),(840,1275),(885,1280),(905,1245),(945,1195),(990,1200),(1005,1240),(1000,1280),(980,1300),(1005,1320),(1015,1320),(1000,1360),(940,1430),(870,1480),(770,1500),(740,1470),(740,1420)]),
 ("y","F",[(905,1380),(935,1350),(955,1375),(920,1405)]),
 ("o","F",[(985,1290),(1005,1295),(995,1315)]),
 ("o","F",[(1350,950),(1370,1020),(1335,1130),(1295,1260),(1265,1272),(1240,1250),(1230,1190),(1250,1130),(1248,1080),(1300,1030)]),
]

LAKES = [
 ("F",[(1010,660),(1040,635),(1060,660),(1045,700),(1015,710)]),
 ("S",[(220,545),(290,545),(230,570)]),
 ("S",[(605,395),(620,430),(590,465),(570,460),(600,440)]),
 ("S",[(25,560),(50,545),(50,585),(30,590)]),
 ("E",[(900,410),(950,430),(930,450),(900,430)]),
 ("E",[(960,385),(1000,400),(990,430),(965,420)]),
 ("A",[(425,680),(445,665),(460,675),(450,730),(430,745)]),
 ("A",[(268,415),(330,405),(380,405),(370,425),(300,445),(270,435)]),
 ("A",[(280,515),(330,500),(400,480),(435,485),(350,515),(310,525)]),
]

W = 6667
fig = plt.figure(figsize=(W/100, W/100), dpi=100, facecolor="white")
ax = fig.add_axes([0, 0, 1, 1])
ax.set_xlim(0, W)
ax.set_ylim(W, 0)
ax.axis("off")

def conv(frame, pts):
    x0, y0, sx, sy = FR[frame]
    return [(x0 + px*sx, y0 + py*sy) for px, py in pts]

EDGE = 4.0
for group in (NORTH_AMERICA, SOUTH_AMERICA, ASIA, EUROPE, AFRICA, OCEANIA):
    for item in group:
        outline = []
        for i in range(1, len(item), 2):
            outline += conv(item[i], item[i+1])
        ax.add_patch(Polygon(outline, closed=True, fc=COLORS[item[0]], ec="white", lw=EDGE, joinstyle="round"))
for frame, pts in LAKES:
    ax.add_patch(Polygon(conv(frame, pts), closed=True, fc="white", ec="white", lw=1))

# header band
ax.add_patch(Polygon([(0, 0), (W, 0), (W, 1492), (0, 1256)], closed=True, fc="#333333", ec="none", zorder=5))


class Tall(AbstractPathEffect):
    """Stretches the glyphs upward from the baseline, for the condensed look of the display face."""
    def __init__(self, k):
        super().__init__()
        self.k = k

    def draw_path(self, renderer, gc, tpath, affine, rgbFace=None):
        renderer.draw_path(gc, tpath, Affine2D().scale(1, self.k) + affine, rgbFace)


renderer = fig.canvas.get_renderer()
def measure(s, size, **kw):
    t = ax.text(0, 0, s, fontsize=size, **kw)
    w = t.get_window_extent(renderer).width
    t.remove()
    return w

def fit_text(x, y, s, target, size, k=1.0, **kw):
    fam = {a: kw[a] for a in ("family", "weight") if a in kw}
    new = size * target / measure(s, size, **fam)
    t = ax.text(x, y, s, fontsize=new, va="baseline", **kw)
    if k != 1.0:
        t.set_path_effects([Tall(k)])
    return t

fit_text(3340, 650, TITLE_LINES[0], 5750, 300, k=1.25, family=NARROW, weight="bold", color="white",
         rotation=-2, rotation_mode="anchor", ha="center", zorder=6)
fit_text(3320, 1225, TITLE_LINES[1], 4830, 300, k=1.25, family=NARROW, weight="bold", color="white",
         rotation=-2, rotation_mode="anchor", ha="center", zorder=6)
fit_text(3340, 1705, SUBTITLE, 865, 150, k=1.35, family=NARROW, color="#333333",
         rotation=-2, rotation_mode="anchor", ha="center")

# legend
BOX_X = [1926, 3653]
BOX_Y = [5244, 5537, 5830]
TEXT_X = [2245, 3972]
BASE_Y = [[5435, 5735, 6036], [5443, 5732, 6021]]
LEG_W = {"mehr als 80": 885, "mehr als 60": 885, "mehr als 40": 885, "mehr als 20": 885, "bis 20": 450, "keine Daten": 895}
LIGHT = {"d": "#9DBDCA", "b": "#9BD9F3", "y": "#FFEE99", "o": "#F6CB99", "m": "#F59BCB", "g": "#EFEFEF"}
for k, (label, c) in enumerate(LEGEND_LABELS):
    col, row = k // 3, k % 3
    x, y = BOX_X[col], BOX_Y[row]
    colr = COLORS[c]
    ax.add_patch(Polygon([(x+14, y), (x+232, y), (x+242, y+25), (x+250, y+240), (x+240, y+250),
                          (x+10, y+250), (x, y+240), (x+8, y+25)], closed=True, fc=colr, ec="none"))
    ax.add_patch(Polygon([(x+37, y+26), (x+215, y+26), (x+221, y+100), (x+28, y+100)], closed=True, fc=LIGHT[c], ec="none"))
    ax.add_patch(Polygon([(x+26, y+126), (x+224, y+126), (x+224, y+225), (x+26, y+225)], closed=True, fc=LIGHT[c], ec="none"))
    if c != "g":
        ax.add_patch(Polygon([(x+88, y+51), (x+163, y+51), (x+163, y+75), (x+88, y+75)], closed=True, fc=colr, ec="none"))
    fit_text(TEXT_X[col], BASE_Y[col][row], label, LEG_W[label], 130, k=1.35, family=NARROW, weight="bold", color=colr, ha="left")

# footer
T = 6667/1568
ax.add_patch(Polygon([(28*T, 1513*T), (33*T, 1525*T), (38*T, 1533*T), (39.5*T, 1543*T), (17*T, 1543*T), (17*T, 1533*T), (23*T, 1523*T)], closed=True, fc=COLORS["d"], ec="none"))
ax.add_patch(Polygon([(18*T, 1545*T), (38*T, 1545*T), (28*T, 1558*T)], closed=True, fc="#333333", ec="none"))
LOGO = {"family": "Open Sans", "weight": "bold"}
logo_size = 150 * 1136 / measure("KATAPULT", 150, **LOGO)
k_width = measure("K", logo_size, **LOGO)
ax.text(212, 6606, "K", fontsize=logo_size, va="baseline", ha="left", color=COLORS["d"], **LOGO)
ax.text(212 + k_width, 6606, "ATAPULT", fontsize=logo_size, va="baseline", ha="left", color="#333333", **LOGO)
fit_text(3336, 6608, FOOTNOTE, 2995, 150, k=1.4, family=NARROW, color="#333333", ha="center")
fit_text(6625, 6495, SOURCE, 962, 44, family="Open Sans", weight="bold", color="#333333", ha="right")
fit_text(6625, 6600, COPYRIGHT, 562, 44, family="Open Sans", weight="bold", color="#333333", ha="right")
ICON_X = [1342, 1364, 1386, 1410]
ICON_TXT = ["cc", "i", "$", "="]
for ix, it in zip(ICON_X, ICON_TXT):
    ax.add_patch(Circle((ix*T, 1546*T), 8.5*T, fc="white", ec="#333333", lw=5))
    ax.text(ix*T, 1546*T, it, fontsize=30, family="Open Sans", weight="bold", color="#333333", ha="center", va="center")

fig.savefig("out.png", dpi=94.8)
